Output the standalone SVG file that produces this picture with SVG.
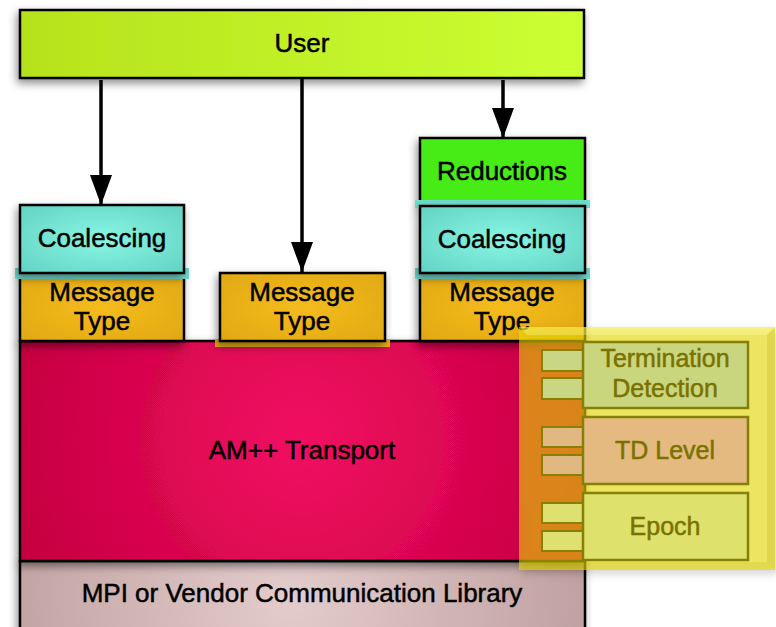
<svg xmlns="http://www.w3.org/2000/svg" width="776" height="627" viewBox="0 0 776 627">
  <defs>
    <linearGradient id="gUser" x1="0" y1="0" x2="1" y2="0">
      <stop offset="0" stop-color="#b6e21c"/>
      <stop offset="1" stop-color="#ccff33"/>
    </linearGradient>
    <radialGradient id="gCoal" cx="0.5" cy="0.5" r="0.7">
      <stop offset="0" stop-color="#88f6e2"/>
      <stop offset="1" stop-color="#62d2c4"/>
    </radialGradient>
    <radialGradient id="gMsg" cx="0.5" cy="0.5" r="0.7">
      <stop offset="0" stop-color="#f4bc1e"/>
      <stop offset="1" stop-color="#e0a810"/>
    </radialGradient>
    <radialGradient id="gRed" gradientUnits="userSpaceOnUse" cx="302" cy="440" r="330">
      <stop offset="0" stop-color="#f20c62"/>
      <stop offset="1" stop-color="#c0003c"/>
    </radialGradient>
    <radialGradient id="gMpi" gradientUnits="userSpaceOnUse" cx="290" cy="600" r="300">
      <stop offset="0" stop-color="#e4cccc"/>
      <stop offset="1" stop-color="#c0a0a0"/>
    </radialGradient>
    <filter id="shadow" x="-10%" y="-20%" width="130%" height="150%">
      <feDropShadow dx="-2" dy="4" stdDeviation="4" flood-color="#000" flood-opacity="0.45"/>
    </filter>
    <filter id="softShadow" x="-10%" y="-10%" width="130%" height="130%">
      <feDropShadow dx="3" dy="4" stdDeviation="4" flood-color="#000" flood-opacity="0.3"/>
    </filter>
    <marker id="arrow" viewBox="0 0 30 22" refX="30" refY="11" markerWidth="30" markerHeight="22" markerUnits="userSpaceOnUse" orient="auto">
      <path d="M0,0 L30,11 L0,22 Z" fill="#000"/>
    </marker>
  </defs>
  <style>
    .box { stroke: #000; stroke-width: 2.5; }
    .lbl { font-family: "Liberation Sans", Arial, sans-serif; font-size: 26px; fill: #000; stroke: #000; stroke-width: 0.5; text-anchor: middle; }
    .olbl { font-family: "Liberation Sans", Arial, sans-serif; font-size: 25px; fill: #7a7200; stroke: #7a7200; stroke-width: 0.5; text-anchor: middle; }
    .obox { stroke: #877f06; stroke-width: 2.5; }
    .port { stroke: #877f06; stroke-width: 2; }
    .conn { stroke: #000; stroke-width: 3.5; fill: none; marker-end: url(#arrow); }
  </style>

  <rect width="776" height="627" fill="#fff"/>

  <!-- base layers -->
  <g id="mpi">
    <rect class="box" x="20" y="561" width="565" height="80" fill="url(#gMpi)" filter="url(#shadow)"/>
    <text class="lbl" x="302" y="602">MPI or Vendor Communication Library</text>
  </g>
  <g id="transport">
    <rect class="box" x="20" y="341" width="565" height="220" fill="url(#gRed)" filter="url(#shadow)"/>
    <text class="lbl" x="302" y="459">AM++ Transport</text>
  </g>

  <!-- top layer -->
  <g id="user">
    <rect class="box" x="20" y="10" width="564" height="68" fill="url(#gUser)" filter="url(#shadow)"/>
    <text class="lbl" x="302" y="52">User</text>
  </g>

  <!-- left stack -->
  <g id="msgtype-left">
    <rect class="box" x="20" y="273" width="164" height="68" fill="url(#gMsg)" filter="url(#shadow)"/>
    <text class="lbl" x="102" y="301">Message</text>
    <text class="lbl" x="102" y="330">Type</text>
  </g>
  <g id="coalescing-left">
    <rect x="15" y="268" width="174" height="11" fill="#6fdccd"/>
    <rect class="box" x="20" y="205" width="164" height="68" fill="url(#gCoal)" filter="url(#shadow)"/>
    <text class="lbl" x="102" y="247">Coalescing</text>
  </g>

  <!-- middle stack -->
  <g id="msgtype-mid">
    <rect x="215" y="339" width="175" height="8" fill="#e6b012"/>
    <rect class="box" x="220" y="273" width="165" height="68" fill="url(#gMsg)" filter="url(#shadow)"/>
    <text class="lbl" x="302" y="301">Message</text>
    <text class="lbl" x="302" y="330">Type</text>
  </g>

  <!-- right stack -->
  <g id="msgtype-right">
    <rect class="box" x="420" y="273" width="165" height="68" fill="url(#gMsg)" filter="url(#shadow)"/>
    <text class="lbl" x="502" y="301">Message</text>
    <text class="lbl" x="502" y="330">Type</text>
  </g>
  <g id="reductions">
    <rect class="box" x="420" y="138" width="165" height="68" fill="#46ec12" filter="url(#shadow)"/>
    <text class="lbl" x="502" y="180">Reductions</text>
  </g>
  <g id="coalescing-right">
    <rect x="415" y="200" width="175" height="8" fill="#6fdccd"/>
    <rect x="415" y="268" width="175" height="11" fill="#6fdccd"/>
    <rect class="box" x="420" y="206" width="165" height="67" fill="url(#gCoal)" filter="url(#shadow)"/>
    <text class="lbl" x="502" y="248">Coalescing</text>
  </g>

  <!-- connectors -->
  <g id="connectors">
    <line class="conn" x1="101" y1="80" x2="101" y2="205"/>
    <line class="conn" x1="302" y1="78" x2="302" y2="272"/>
    <line class="conn" x1="503" y1="80" x2="503" y2="138"/>
  </g>

  <!-- termination detection overlay -->
  <g id="td-panel">
    <rect x="519" y="327" width="256" height="243" fill="#f0e000" fill-opacity="0.55" filter="url(#softShadow)"/>
    <polygon points="519,327 775,327 767,335 527,335" fill="#fffaa0" fill-opacity="0.35"/>
    <polygon points="775,327 775,570 767,562 767,335" fill="#a8a000" fill-opacity="0.2"/>
    <polygon points="519,570 775,570 767,562 527,562" fill="#a8a000" fill-opacity="0.15"/>
  </g>

  <g id="termination-detection">
    <rect class="port" x="542" y="350" width="41" height="21" fill="#c9d684"/>
    <rect class="port" x="542" y="378" width="41" height="21" fill="#c9d684"/>
    <rect class="obox" x="583" y="342" width="165" height="66" fill="#cad67e"/>
    <text class="olbl" x="665" y="367">Termination</text>
    <text class="olbl" x="665" y="397">Detection</text>
  </g>
  <g id="td-level">
    <rect class="port" x="542" y="427" width="41" height="20" fill="#e2b882"/>
    <rect class="port" x="542" y="455" width="41" height="20" fill="#e2b882"/>
    <rect class="obox" x="583" y="417" width="165" height="67" fill="#e4ba80"/>
    <text class="olbl" x="665" y="459">TD Level</text>
  </g>
  <g id="epoch">
    <rect class="port" x="542" y="503" width="41" height="20" fill="#dee070"/>
    <rect class="port" x="542" y="531" width="41" height="20" fill="#dee070"/>
    <rect class="obox" x="583" y="493" width="165" height="67" fill="#dee26c"/>
    <text class="olbl" x="665" y="535">Epoch</text>
  </g>
</svg>
